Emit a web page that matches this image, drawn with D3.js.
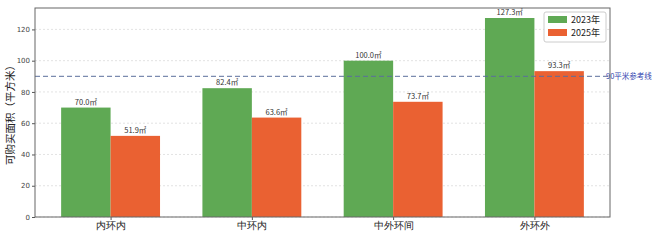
<!DOCTYPE html>
<html><head><meta charset="utf-8">
<script src="https://cdn.jsdelivr.net/npm/d3@7"></script>
<style>
html,body{margin:0;padding:0;background:#fff;}
svg{display:block;font-family:"Noto Sans CJK SC","DejaVu Sans",sans-serif;}
</style></head>
<body><svg id="c" width="660" height="240"></svg>
<script>
const categories = ["内环内","中环内","中外环间","外环外"];
const seriesNames = ["2023年","2025年"];
const values2023 = [70.0, 82.4, 100.0, 127.3];
const values2025 = [51.9, 63.6, 73.7, 93.3];
const yTicks = [0,20,40,60,80,100,120];
const refValue = 90;
const refLabel = "90平米参考线";
const yLabel = "可购买面积（平方米）";
const colors = ["#5fa954","#ea6132"];

const svg = d3.select("#c");
const m = {l:35, r:50, t:8, b:23};
const W = 660, H = 240;
const x = d3.scaleLinear().domain([-0.535, 3.535]).range([m.l, W-m.r]);
const y = d3.scaleLinear().domain([0, 133.7]).range([H-m.b, m.t]);
const bw = 0.35;

// grid
svg.append("g").selectAll("line").data(yTicks).join("line")
  .attr("x1", x.range()[0]).attr("x2", x.range()[1])
  .attr("y1", d=>y(d)).attr("y2", d=>y(d))
  .attr("stroke","#dcdcdc").attr("stroke-width",0.8).attr("stroke-dasharray","2,2");

const series = [values2023, values2025];
series.forEach((vals, si) => {
  const off = si === 0 ? -bw/2 : bw/2;
  svg.append("g").selectAll("rect").data(vals).join("rect")
    .attr("x", (d,i)=>x(i+off-bw/2))
    .attr("width", (d,i)=>x(i+off+bw/2)-x(i+off-bw/2))
    .attr("y", d=>y(d)).attr("height", d=>y(0)-y(d))
    .attr("fill", colors[si]);
  svg.append("g").selectAll("text").data(vals).join("text")
    .attr("x", (d,i)=>x(i+off)).attr("y", d=>y(d)-3)
    .attr("text-anchor","middle").attr("font-size",7.5).attr("fill","#333")
    .text(d=>d.toFixed(1)+"㎡");
});

// reference line
svg.append("line").attr("x1", x.range()[0]).attr("x2", x.range()[1])
  .attr("y1", y(refValue)).attr("y2", y(refValue))
  .attr("stroke","#5b6f9c").attr("stroke-width",1).attr("stroke-dasharray","5,3");
svg.append("text").attr("x", x.range()[1]-4).attr("y", y(refValue)+2.5)
  .attr("font-size",7.5).attr("fill","#3346b0").text(refLabel);

// axes
const ya = svg.append("g").attr("transform",`translate(${m.l},0)`)
  .call(d3.axisLeft(y).tickValues(yTicks).tickSize(3).tickPadding(2));
ya.select(".domain").remove();
ya.selectAll("text").attr("font-size",7).attr("fill","#444").attr("font-family","DejaVu Sans, sans-serif");
ya.selectAll("line").attr("stroke","#555");
const xa = svg.append("g").attr("transform",`translate(0,${H-m.b})`)
  .call(d3.axisBottom(x).tickValues(d3.range(categories.length)).tickFormat(i=>categories[i]).tickSize(3).tickPadding(2));
xa.select(".domain").remove();
xa.selectAll("text").attr("font-size",9.5).attr("fill","#222");
xa.selectAll("line").attr("stroke","#555");

// frame
svg.append("rect").attr("x", m.l).attr("y", m.t)
  .attr("width", W-m.r-m.l).attr("height", H-m.b-m.t)
  .attr("fill","none").attr("stroke","#666").attr("stroke-width",1);

// y label
svg.append("text").attr("transform",`translate(14,${(m.t+H-m.b)/2}) rotate(-90)`)
  .attr("text-anchor","middle").attr("font-size",10.5).attr("fill","#222").text(yLabel);

// legend
const lg = svg.append("g").attr("transform",`translate(544,12)`);
lg.append("rect").attr("width",62).attr("height",30).attr("rx",2)
  .attr("fill","#fff").attr("fill-opacity",0.85).attr("stroke","#ccc");
seriesNames.forEach((n,i)=>{
  lg.append("rect").attr("x",4).attr("y",4+i*13).attr("width",19).attr("height",7).attr("fill",colors[i]);
  lg.append("text").attr("x",27).attr("y",11+i*13).attr("font-size",9).attr("fill","#222").text(n);
});
</script></body></html>
